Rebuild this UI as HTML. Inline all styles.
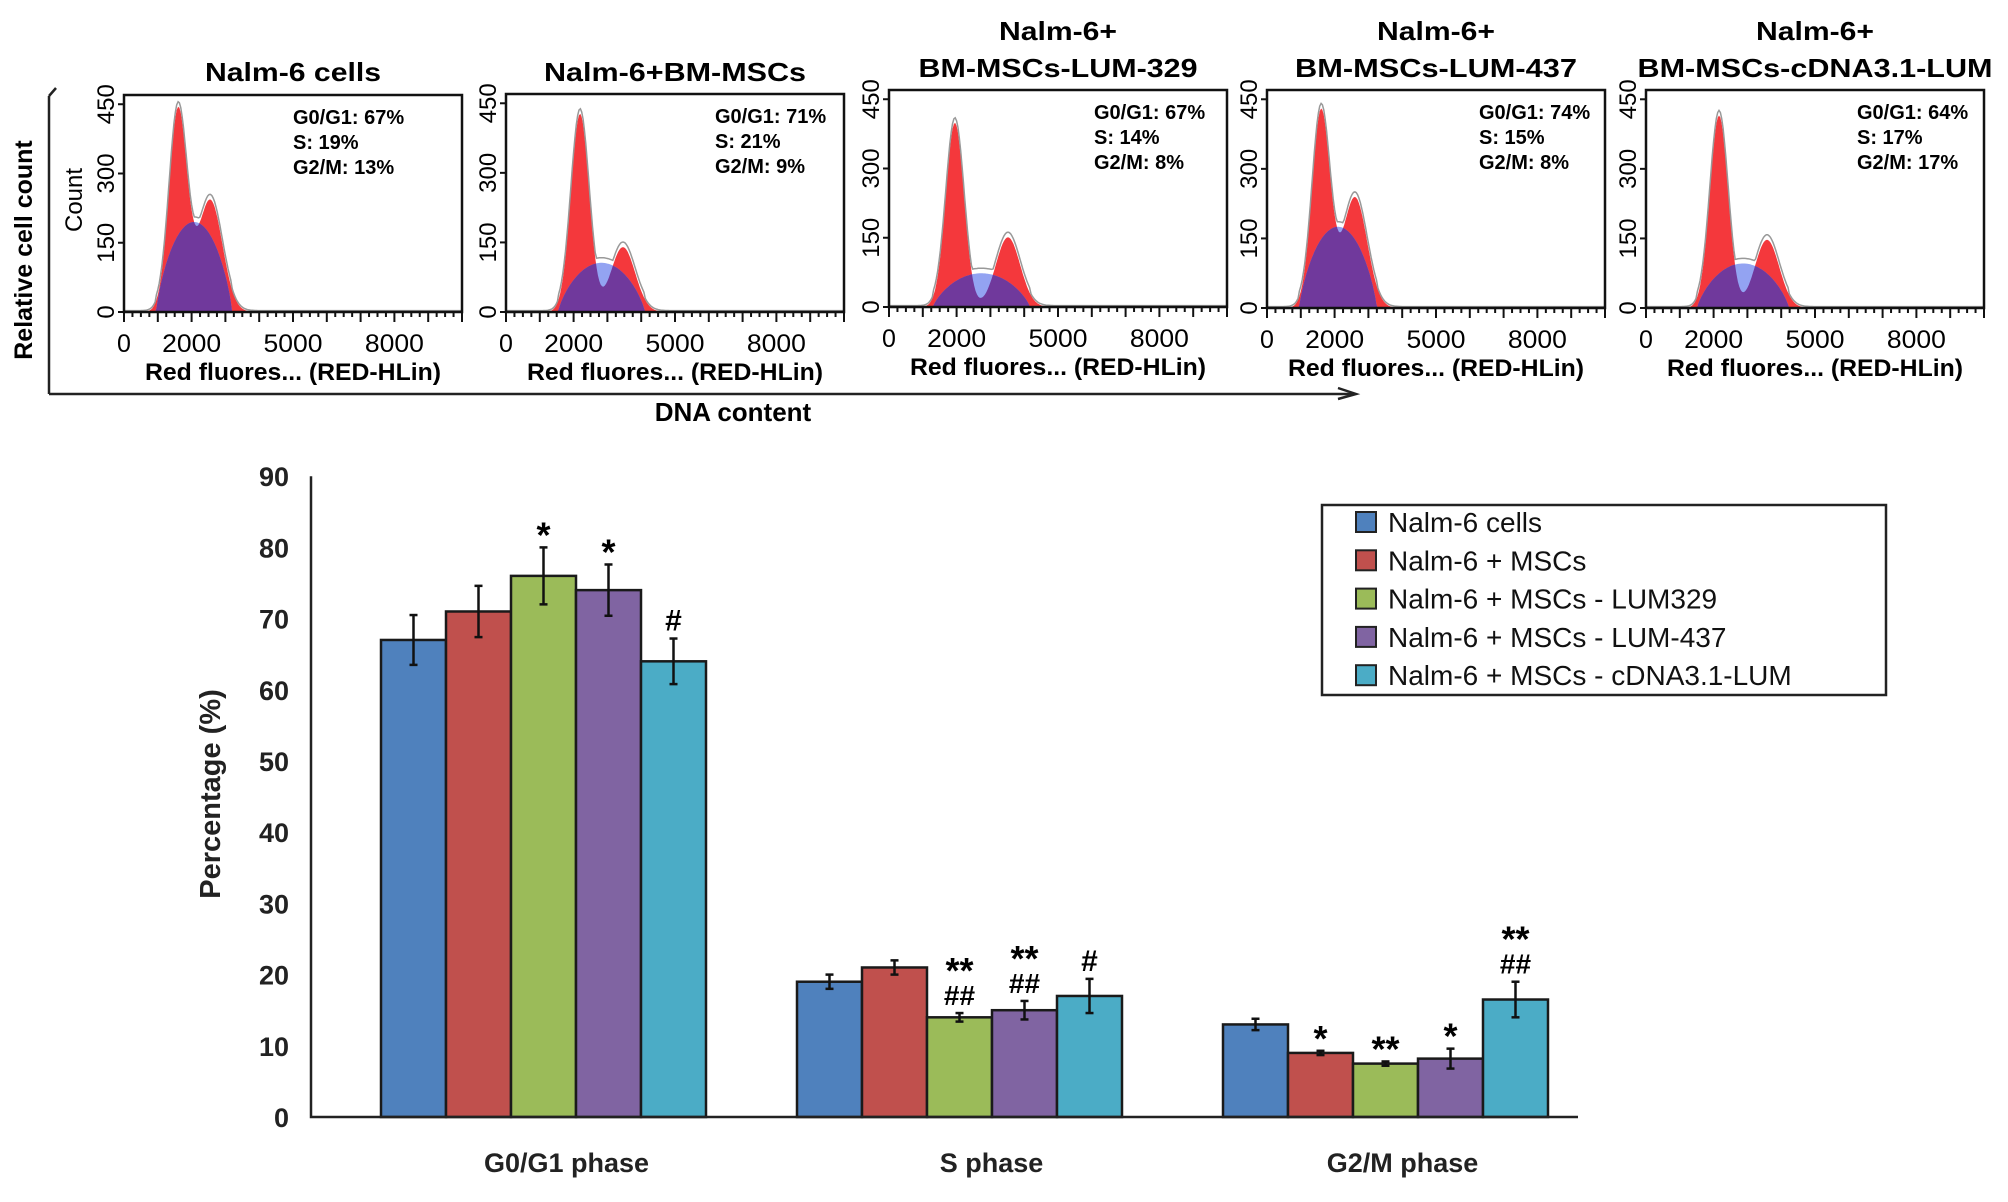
<!DOCTYPE html>
<html><head><meta charset="utf-8"><style>
html,body{margin:0;padding:0;background:#fff}
svg{display:block;font-family:"Liberation Sans",sans-serif}
</style></head><body>
<svg id="fig" width="2008" height="1202" viewBox="0 0 2008 1202" xmlns="http://www.w3.org/2000/svg">
<defs></defs>
<g id="topgrp">
  <line x1="49" y1="96" x2="49" y2="394" stroke="#222" stroke-width="2.5"/>
  <line x1="49" y1="394" x2="1354" y2="394" stroke="#222" stroke-width="2.5"/>
  <path d="M1338 388 L1356 394 L1338 399" fill="none" stroke="#222" stroke-width="2.5"/>
  <path d="M49 96 L56 88" fill="none" stroke="#222" stroke-width="2.5"/>
  <text transform="translate(32,250) rotate(-90)" text-anchor="middle" font-size="25" font-weight="bold">Relative cell count</text>
  <text x="733" y="421" text-anchor="middle" font-size="26" font-weight="bold">DNA content</text>
</g>
<g id="bar"></g>
</svg>
<script>
// ===== Histogram panel data =====
const panelTitles1 = ["", "", "Nalm-6+", "Nalm-6+", "Nalm-6+"];
const panelTitles2 = ["Nalm-6 cells", "Nalm-6+BM-MSCs", "BM-MSCs-LUM-329", "BM-MSCs-LUM-437", "BM-MSCs-cDNA3.1-LUM"];
const statG1 = ["67%", "71%", "67%", "74%", "64%"];
const statS = ["19%", "21%", "14%", "15%", "17%"];
const statG2 = ["13%", "9%", "8%", "8%", "17%"];
const g1Pos = [1600, 2190, 1950, 1600, 2160];
const g1Height = [437, 427, 399, 425, 415];
const g2Pos = [2550, 3460, 3520, 2600, 3580];
const g2Height = [243, 140, 151, 239, 147];
const sHeight = [195, 106, 73, 175, 96];
const histXTicks = [0, 2000, 5000, 8000];
const histYTicks = [0, 150, 300, 450];

// ===== Bar chart data =====
const categories = ["G0/G1 phase", "S phase", "G2/M phase"];
const seriesNames = ["Nalm-6 cells", "Nalm-6 + MSCs", "Nalm-6 + MSCs - LUM329", "Nalm-6 + MSCs - LUM-437", "Nalm-6 + MSCs - cDNA3.1-LUM"];
const valCells = [67, 19, 13];
const valMSCs = [71, 21, 9];
const valLUM329 = [76, 14, 7.5];
const valLUM437 = [74, 15, 8.2];
const valCDNA = [64, 17, 16.5];
const errCells = [3.5, 1, 0.8];
const errMSCs = [3.6, 1, 0.3];
const errLUM329 = [4, 0.6, 0.3];
const errLUM437 = [3.6, 1.3, 1.4];
const errCDNA = [3.2, 2.4, 2.5];
const sigCells = [["",""], ["",""], ["",""]];
const sigMSCs = [["",""], ["",""], ["*",""]];
const sigLUM329 = [["*",""], ["**","##"], ["**",""]];
const sigLUM437 = [["*",""], ["**","##"], ["*",""]];
const sigCDNA = [["#",""], ["#",""], ["**","##"]];
const yTicks = [0, 10, 20, 30, 40, 50, 60, 70, 80, 90];

const NS = "http://www.w3.org/2000/svg";
function mk(tag, attrs, parent, text) {
  const e = document.createElementNS(NS, tag);
  for (const k in attrs) e.setAttribute(k, attrs[k]);
  if (text !== undefined) e.textContent = text;
  parent.appendChild(e);
  return e;
}
const svgEl = document.getElementById("fig");
const defsEl = svgEl.querySelector("defs");
const topG = document.getElementById("topgrp");

// ---- panels ----
const boxL = [124, 506, 889, 1267, 1646];
const boxT = [95, 94, 90, 90, 90];
const boxB = [312, 312, 307, 308, 308];
const boxW = 338;
const statDX = [169, 209, 205, 212, 211];
for (let p = 0; p < 5; p++) {
  const L = boxL[p], T = boxT[p], B = boxB[p], H = B - T;
  const xs = d => L + d * boxW / 10000;
  const ys = c => B - c / 470 * H;
  const g = mk("g", {}, topG);
  
  
  const cx = L + boxW / 2;
  if (panelTitles1[p]) {
    const t1 = mk("text", {x: cx, y: 40, "text-anchor": "middle", "font-size": 26, "font-weight": "bold", textLength: 118, lengthAdjust: "spacingAndGlyphs"}, g, panelTitles1[p]);
    
    
  }
  const tw = [176, 262, 279, 282, 355][p];
  const t2 = mk("text", {x: cx, y: p < 2 ? 81 : 77, "text-anchor": "middle", "font-size": 26, "font-weight": "bold", textLength: tw, lengthAdjust: "spacingAndGlyphs"}, g, panelTitles2[p]);
  
  

  const s1 = 270, s2 = 360;
  const sc = (g1Pos[p] + g2Pos[p]) / 2, sw = (g2Pos[p] - g1Pos[p]) / 2 + 650;
  let red = [], blue = [], env = [];
  for (let d = 0; d <= 10000; d += 40) {
    const r = g1Height[p] * Math.exp(-Math.pow((d - g1Pos[p]) / s1, 2) / 2) + g2Height[p] * Math.exp(-Math.pow((d - g2Pos[p]) / s2, 2) / 2);
    const u = 1 - Math.pow((d - sc) / sw, 2);
    const b = u > 0 ? sHeight[p] * Math.pow(u, 0.8) : 0;
    red.push([xs(d), ys(r)]); blue.push([xs(d), ys(b)]);
    env.push([xs(d), ys(Math.max(r, b) + (b > 1 && r > 1 ? 8 : 0) + 3)]);
  }
  const toPath = pts => "M" + xs(0) + " " + B + " L" + pts.map(q => q[0].toFixed(1) + " " + q[1].toFixed(1)).join(" L") + " L" + xs(10000) + " " + B + " Z";
  const redD = toPath(red), blueD = toPath(blue);
  const cp = mk("clipPath", {id: "clipR" + p}, defsEl);
  mk("path", {d: redD}, cp);
  const rp = mk("path", {d: redD, fill: "#f4383c"}, g);
  
  
  const bp = mk("path", {d: blueD, fill: "#93a3f2"}, g);
  
  
  const pp = mk("path", {d: blueD, fill: "#70399c", "clip-path": "url(#clipR" + p + ")"}, g);
  
  
  const ep = mk("path", {d: "M" + env.map(q => q[0].toFixed(1) + " " + q[1].toFixed(1)).join(" L"), fill: "none", stroke: "#999", "stroke-width": 1.5}, g);
  
  

  const box = mk("rect", {x: L, y: T, width: boxW, height: H, fill: "none", stroke: "#111", "stroke-width": 2.5}, g);
  
  
  for (let d = 0; d <= 10000; d += 250) {
    const major = d % 1000 === 0;
    mk("line", {x1: xs(d), x2: xs(d), y1: B, y2: B + (major ? 10 : 5), stroke: "#111", "stroke-width": 2}, g);
  }
  histXTicks.forEach(v => {
    const t = mk("text", {x: xs(v), y: B + 40, "text-anchor": "middle", "font-size": 25}, g, String(v));
    
    
    if (v) { t.setAttribute("textLength", 59); t.setAttribute("lengthAdjust", "spacingAndGlyphs"); }
  });
  histYTicks.forEach(v => {
    mk("line", {x1: L - 6, x2: L, y1: ys(v), y2: ys(v), stroke: "#111", "stroke-width": 2}, g);
    const t = mk("text", {transform: "translate(" + (L - 10) + "," + ys(v) + ") rotate(-90)", "text-anchor": "middle", "font-size": 24}, g, String(v));
    
    
  });
  const xl = mk("text", {x: cx, y: B + 68, "text-anchor": "middle", "font-size": 24, "font-weight": "bold", textLength: 296, lengthAdjust: "spacingAndGlyphs"}, g, "Red fluores... (RED-HLin)");
  
  
  if (p === 0) {
    const cl = mk("text", {transform: "translate(82,200) rotate(-90)", "text-anchor": "middle", "font-size": 24}, g, "Count");
    
    
  }
  const sx = L + statDX[p];
  [["G0/G1: ", statG1[p]], ["S: ", statS[p]], ["G2/M:  ", statG2[p]]].forEach((s, i) => {
    const t = mk("text", {x: sx, y: T + 29 + i * 25, "font-size": 20, "font-weight": "bold"}, g, s[0] + s[1]);
    
    
  });
}

// ---- bar chart ----
const barG = document.getElementById("bar");
const x0 = 311, yZero = 1117, yPer = 71.2 / 10;
const yScale = v => yZero - v * yPer;
const groupStarts = [381, 797, 1223];
const labelShift = [23, 32, 17];
const barW = 65;
const colors = ["#4f81bd", "#c0504d", "#9bbb59", "#8064a2", "#4bacc6"];
const vals = [valCells, valMSCs, valLUM329, valLUM437, valCDNA];
const errs = [errCells, errMSCs, errLUM329, errLUM437, errCDNA];
const sigs = [sigCells, sigMSCs, sigLUM329, sigLUM437, sigCDNA];

yTicks.forEach(v => {
  const t = mk("text", {x: 289, y: yScale(v) + 10, "text-anchor": "end", "font-size": 27, "font-weight": "bold", fill: "#222"}, barG, String(v));
  
  
});
const yt = mk("text", {transform: "translate(220,794) rotate(-90)", "text-anchor": "middle", "font-size": 29, "font-weight": "bold", fill: "#222"}, barG, "Percentage (%)");



categories.forEach((c, ci) => {
  for (let s = 0; s < 5; s++) {
    const v = vals[s][ci], e = errs[s][ci];
    const x = groupStarts[ci] + s * barW;
    const r = mk("rect", {x: x, y: yScale(v), width: barW, height: yZero - yScale(v), fill: colors[s], stroke: "#1a1a1a", "stroke-width": 2.5}, barG);
    
    
    const mx = x + barW / 2;
    const eg = mk("g", {stroke: "#111", "stroke-width": 2.5}, barG);
    
    
    mk("line", {x1: mx, x2: mx, y1: yScale(v + e), y2: yScale(v - e)}, eg);
    mk("line", {x1: mx - 4, x2: mx + 4, y1: yScale(v + e), y2: yScale(v + e)}, eg);
    mk("line", {x1: mx - 4, x2: mx + 4, y1: yScale(v - e), y2: yScale(v - e)}, eg);
    const sg = sigs[s][ci];
    const topY = yScale(v + e);
    if (sg[1]) {
      const h = mk("text", {x: mx, y: topY - 8, "text-anchor": "middle", "font-size": 28, "font-weight": "bold"}, barG, sg[1]);
      
      
      const a = mk("text", {x: mx, y: topY - 30, "text-anchor": "middle", "font-size": 36, "font-weight": "bold"}, barG, sg[0]);
      
      
    } else if (sg[0]) {
      const isHash = sg[0] === "#";
      const a = mk("text", {x: mx, y: topY - (isHash ? 8 : 0), "text-anchor": "middle", "font-size": isHash ? 30 : 36, "font-weight": "bold"}, barG, sg[0]);
      
      
    }
  }
  const lbl = mk("text", {x: groupStarts[ci] + barW * 2.5 + labelShift[ci], y: 1172, "text-anchor": "middle", "font-size": 27, "font-weight": "bold", fill: "#222"}, barG, c);
  
  
});
const ax = mk("path", {d: "M" + x0 + " " + (yScale(90)) + " L" + x0 + " " + yZero + " L1578 " + yZero, fill: "none", stroke: "#222", "stroke-width": 2.5}, barG);



const lg = mk("g", {}, barG);


mk("rect", {x: 1322, y: 505, width: 564, height: 190, fill: "#fff", stroke: "#222", "stroke-width": 2.5}, lg);
seriesNames.forEach((n, i) => {
  const yy = 522 + i * 38.3;
  const e = mk("g", {}, lg);
  
  
  mk("rect", {x: 1356, y: yy - 10, width: 20, height: 20, fill: colors[i], stroke: "#222", "stroke-width": 2}, e);
  mk("text", {x: 1388, y: yy + 10, "font-size": 28, fill: "#111"}, e, n);
});
</script>
</body></html>
